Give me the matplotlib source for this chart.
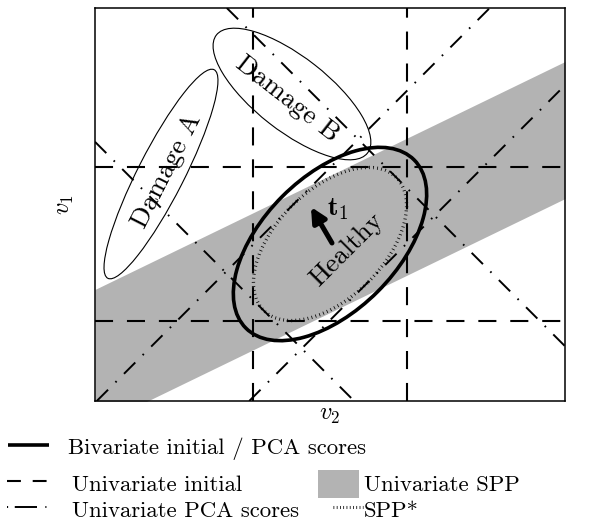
import numpy as np
import matplotlib
matplotlib.use("Agg")
import matplotlib.pyplot as plt
from matplotlib.patches import Ellipse, Rectangle

plt.rcParams['font.family'] = 'cmr10'
plt.rcParams['mathtext.fontset'] = 'cm'
plt.rcParams['lines.scale_dashes'] = False

# ── Data (units: univariate initial limit = 1) ─────────
uni_lim      = [-1.0, 1.0]            # univariate initial limits on v1, v2
pca_t1_lim   = [-1.725, 1.725]        # x + y = c
pca_t2_lim   = [-0.99, 0.99]          # y - x = c
band_slope   = 0.485
band_half    = 0.89
biv_size     = [3.09, 1.75]           # bivariate ellipse (width, height)
spp_size     = [2.44, 1.40]           # SPP* ellipse
health_angle = 45

damage_names   = ["Damage A", "Damage B"]
damage_centers = [(-2.195, 0.909), (-0.494, 1.948)]
damage_sizes   = [(3.04, 0.60), (2.49, 0.96)]
damage_angles  = [63, -38]
damage_text_xy = [(-2.12, 0.95), (-0.56, 1.88)]

t1_tail = (0.026, 0.013)
t1_tip  = (-0.247, 0.481)

GREY = '#b3b3b3'
FS = 16.4        # legend
FS_IN = 19.5     # text inside the plot

fig = plt.figure(figsize=(6.03, 5.27), dpi=100)
ax = fig.add_axes([95/603, 126/527, 470/603, 393/527])
ax.set_xlim(-3.052, 3.052)
ax.set_ylim(-2.039, 3.065)
ax.set_xticks([])
ax.set_yticks([])
for s in ax.spines.values():
    s.set_linewidth(1.1)

# grey band (univariate SPP)
xs = np.array(ax.get_xlim())
ax.fill_between(xs, band_slope*xs - band_half, band_slope*xs + band_half,
                color=GREY, lw=0, zorder=0)

# univariate initial limits
dash = (0, (13, 10))
for v in uni_lim:
    ax.axvline(v, color='k', lw=1.5, ls=dash, zorder=2)
    ax.axhline(v, color='k', lw=1.5, ls=dash, zorder=2)

# univariate PCA score limits
dashdot = (0, (11.5, 7.5, 1.2, 7.5))
for c in pca_t1_lim:
    ax.axline((0, c), slope=-1, color='k', lw=1.4, ls=dashdot, zorder=2)
for c in pca_t2_lim:
    ax.axline((0, c), slope=1, color='k', lw=1.4, ls=dashdot, zorder=2)

# healthy ellipses
ax.add_patch(Ellipse((0, 0), *biv_size, angle=health_angle, fill=False,
                     ec='k', lw=2.6, zorder=3))
spp = Ellipse((0, 0), *spp_size, angle=health_angle, fill=False,
              ec='k', lw=2.4, ls=(0, (0.55, 2.4)), zorder=3)
spp.set_capstyle('butt')
ax.add_patch(spp)

# damage ellipses
for name, c, sz, ang, txy in zip(damage_names, damage_centers, damage_sizes,
                                  damage_angles, damage_text_xy):
    ax.add_patch(Ellipse(c, *sz, angle=ang, fill=False, ec='k', lw=0.8, zorder=3))
    ax.text(*txy, name, rotation=ang, ha='center', va='center',
            rotation_mode='anchor', fontsize=FS_IN)

ax.text(0.22, -0.08, 'Healthy', rotation=health_angle, ha='center',
        va='center', rotation_mode='anchor', fontsize=FS_IN)

# t1 arrow
ax.annotate('', xy=t1_tip, xytext=t1_tail,
            arrowprops=dict(arrowstyle='-|>', lw=3.6, color='k',
                            mutation_scale=22, shrinkA=0, shrinkB=0))
ax.text(-0.04, 0.45, r'$\mathbf{t}_1$', ha='left', va='center', fontsize=FS_IN)

ax.text(0.5, -0.035, r'$v_2$', transform=ax.transAxes, ha='center',
        va='center', fontsize=FS + 1)
ax.text(-0.064, 0.5, r'$v_1$', transform=ax.transAxes, rotation=90,
        ha='center', va='center', fontsize=FS + 1)

# ── Legend (pixel coords) ──────────────────────────────
lax = fig.add_axes([0, 0, 1, 1], zorder=-1)
lax.set_xlim(0, 603)
lax.set_ylim(527, 0)
lax.axis('off')

lax.plot([8, 49], [445, 445], color='k', lw=2.6, solid_capstyle='butt')
lax.plot([7, 49], [481, 481], color='k', lw=1.5, ls=(0, (10, 8.5)),
         dash_capstyle='butt')
lax.plot([7, 49], [507, 507], color='k', lw=1.4,
         ls=(0, (0.8, 4.8, 16, 6, 0.8, 10)), dash_capstyle='butt')
lax.add_patch(Rectangle((318, 470), 41, 28, color=GREY, lw=0))
lax.plot([333, 363], [507, 507], color='k', lw=2.2, ls=(0, (0.55, 1.8)),
         dash_capstyle='butt')

lax.text(68, 454, 'Bivariate initial / PCA scores', va='baseline', fontsize=FS)
lax.text(72, 491, 'Univariate initial', va='baseline', fontsize=FS)
lax.text(72, 517, 'Univariate PCA scores', va='baseline', fontsize=FS)
lax.text(364, 491, 'Univariate SPP', va='baseline', fontsize=FS)
lax.text(364, 517, 'SPP*', va='baseline', fontsize=FS)

fig.savefig('out.png', dpi=100)
